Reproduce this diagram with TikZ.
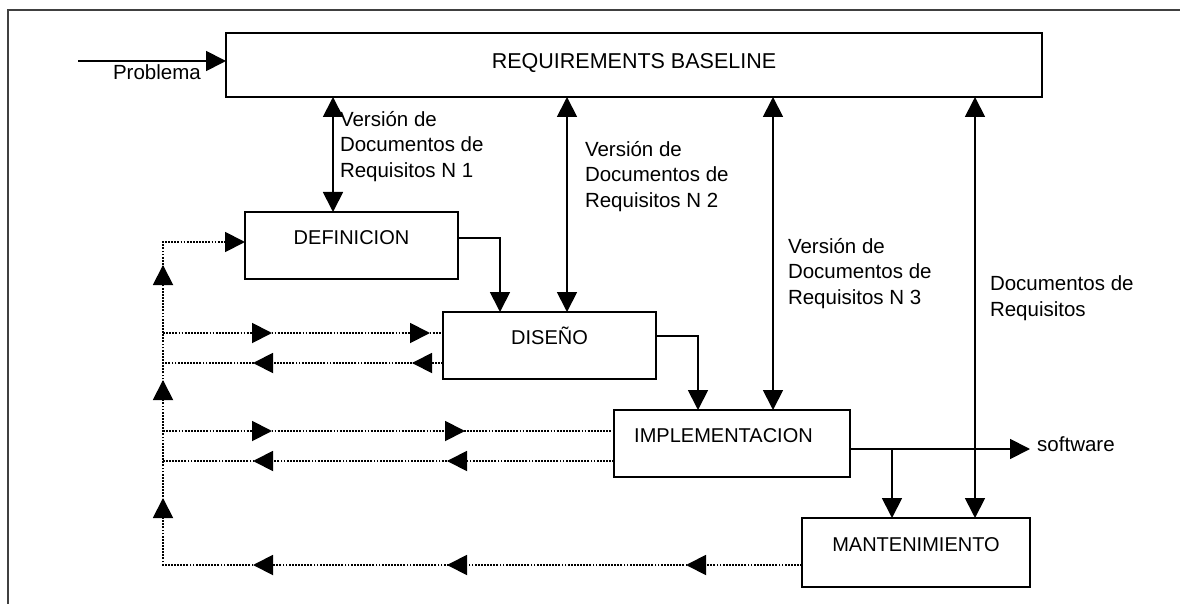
\documentclass[tikz,border=0pt]{standalone}
\usepackage{fontspec}
\setmainfont{Liberation Sans}
\usetikzlibrary{arrows.meta,decorations.markings,calc}
\begin{document}
\begin{tikzpicture}[x=1pt,y=-1pt,
  tri/.tip={Triangle[length=20pt,width=20pt]},
  box/.style={draw,line width=1.8pt,inner sep=0pt,outer sep=0pt,
    font=\fontsize{20}{24}\selectfont,text height=32pt,text depth=35pt},
  lbl/.style={inner sep=0pt,outer sep=0pt,anchor=north west,align=left,
    font=\fontsize{20.5}{25.5}\selectfont},
  sl/.style={line width=1.8pt},
  dots/.style={line width=1.9pt,dash pattern=on 1.8pt off 1.3pt},
  tipat/.style={postaction={decorate,decoration={markings,
    mark=at position #1 with {\arrow{tri}}}}},
  frame/.style={line width=2pt,draw=black!75}
]
\useasboundingbox (0,0) rectangle (1180,604);
\draw[frame] (7.5,604) -- (7.5,10) -- (1180,10);

% boxes
\node[box,minimum width=816pt,text height=36pt,text depth=28pt,
  font=\fontsize{21.5}{24}\selectfont] (req) at (634,65) {REQUIREMENTS BASELINE};
\node[box,minimum width=213pt] (def) at (351.5,245.5) {DEFINICION};
\node[box,minimum width=213pt] (dis) at (549.5,345.5) {DISEÑO};
\node[box,minimum width=236pt] (impl) at (732,443.5) {IMPLEMENTACION\hspace*{17pt}};
\node[box,minimum width=228pt,text height=33pt,text depth=36pt] (mant) at (916,552.5) {MANTENIMIENTO};

% labels
\node[lbl] (l1) at (340,111) {Versión de\\Documentos de\\Requisitos N 1};
\node[lbl] (l2) at (585,141) {Versión de\\Documentos de\\Requisitos N 2};
\node[lbl] (l3) at (788,238) {Versión de\\Documentos de\\Requisitos N 3};
\node[lbl] (l4) at (990,276) {Documentos de\\Requisitos};
\node[anchor=base east,inner sep=0pt,font=\fontsize{20.5}{24}\selectfont] (prob) at (201,80) {Problema};
\node[anchor=base west,inner sep=0pt,font=\fontsize{20.5}{24}\selectfont] (sw) at (1037,451) {software};

% problem input
\coordinate (pin) at (78,61);
\draw[sl,-{tri}] (pin) -- (pin -| req.west);

% requirement document versions
\coordinate (t1) at ([xshift=-18.5pt]def.north);
\coordinate (t2) at ([xshift=17.5pt]dis.north);
\coordinate (t3) at ([xshift=41pt]impl.north);
\coordinate (t4) at ([xshift=59pt]mant.north);
\draw[sl,{tri}-{tri}] (t1 |- req.south) -- (t1);
\draw[sl,{tri}-{tri}] (t2 |- req.south) -- (t2);
\draw[sl,{tri}-{tri}] (t3 |- req.south) -- (t3);
\draw[sl,{tri}-{tri}] (t4 |- req.south) -- (t4);

% phase flow
\coordinate (e1) at ([yshift=7.5pt]def.east);
\coordinate (n1) at ([xshift=-49.5pt]dis.north);
\draw[sl,-{tri}] (e1) -| (n1);
\coordinate (e2) at ([yshift=9.5pt]dis.east);
\coordinate (n2) at ([xshift=-34pt]impl.north);
\draw[sl,-{tri}] (e2) -| (n2);
\coordinate (e3) at ([yshift=-5.5pt]impl.east);
\draw[sl,-{tri},shorten >=7pt] (e3) -- (e3 -| sw.west);
\coordinate (n3) at ([xshift=-24pt]mant.north);
\draw[sl,-{tri}] (e3 -| n3) -- (n3);

% feedback (dotted)
\coordinate (r5) at ([yshift=-12.5pt]mant.west);
\coordinate (vbot) at (163,565);
\coordinate (dl) at ([yshift=3.5pt]def.west);
\draw[dots,-{tri},tipat=116pt,tipat=355pt,tipat=549pt,tipat=706pt,tipat=824pt,tipat=939pt]
  (r5) -- (r5 -| vbot) -- (vbot |- dl) -- (dl);
\coordinate (a1) at (163,333);
\draw[dots,tipat=109pt,tipat=267pt] (a1) -- (a1 -| dis.west);
\coordinate (d2) at ([yshift=-17.5pt]dis.west);
\draw[dots,tipat=31pt,tipat=190pt] (d2) -- (d2 -| vbot);
\coordinate (a3) at (163,431);
\draw[dots,tipat=109pt,tipat=302pt] (a3) -- (a3 -| impl.west);
\coordinate (i4) at ([yshift=-17.5pt]impl.west);
\draw[dots,tipat=167pt,tipat=361pt] (i4) -- (i4 -| vbot);
\end{tikzpicture}
\end{document}
